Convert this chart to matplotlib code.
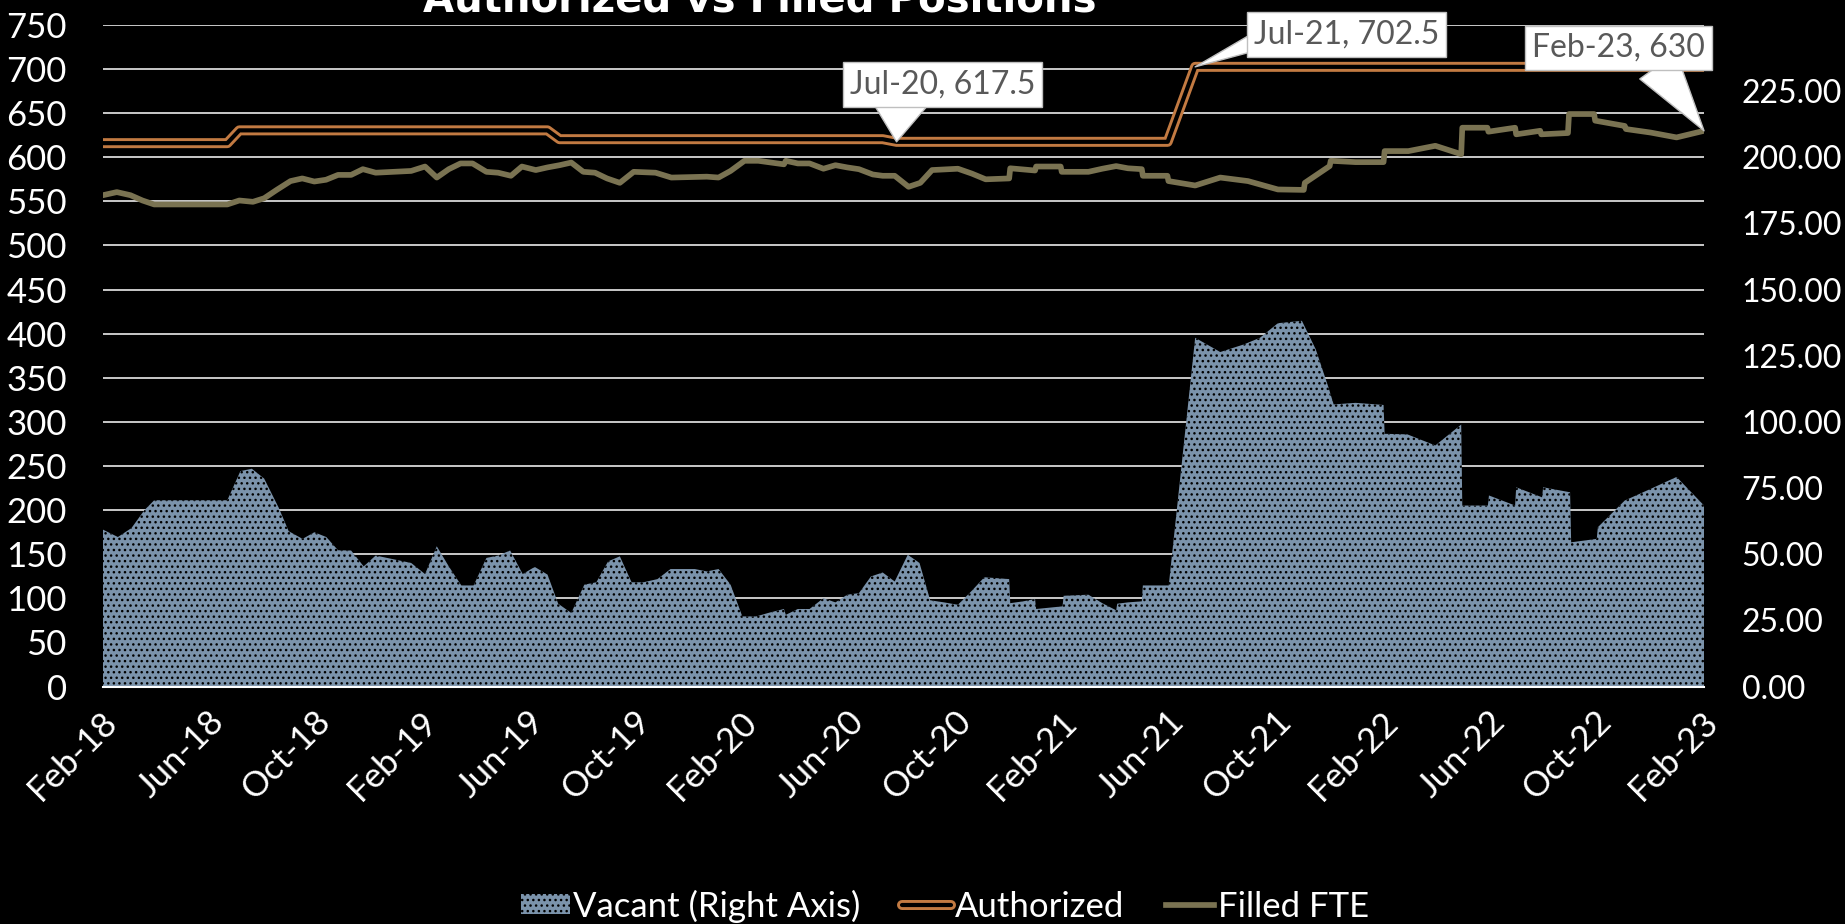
import matplotlib.pyplot as plt
from matplotlib import patheffects as pe
from matplotlib.patches import Patch
from matplotlib.transforms import ScaledTranslation

plt.rcParams['font.family'] = ['Lato', 'DejaVu Sans']
plt.rcParams['hatch.color'] = 'black'
plt.rcParams['hatch.linewidth'] = 1.0

# x values are months since Feb-18
tick_pos = list(range(0, 61, 4))
tick_labels = ['Feb-18', 'Jun-18', 'Oct-18', 'Feb-19', 'Jun-19', 'Oct-19', 'Feb-20', 'Jun-20',
               'Oct-20', 'Feb-21', 'Jun-21', 'Oct-21', 'Feb-22', 'Jun-22', 'Oct-22', 'Feb-23']

auth_x = [0, 4.66, 5.11, 16.66, 17.11, 29.22, 29.74, 39.9, 40.93, 60.0]
auth_y = [616, 616, 630.5, 630.5, 620.5, 620.5, 617.5, 617.5, 702.5, 702.5]

filled_x = [0, 0.52, 1.03, 1.48, 1.92, 4.66, 5.11, 5.62, 6.04, 6.51, 7.03, 7.47, 7.92, 8.36,
            8.81, 9.3, 9.74, 10.22, 11.55, 12.07, 12.51, 12.96, 13.4, 13.85, 14.37, 14.81,
            15.29, 15.7, 16.22, 16.66, 17.11, 17.55, 18.0, 18.44, 18.89, 19.37, 19.89, 20.71,
            21.3, 22.63, 23.07, 23.52, 24.04, 24.56, 25.52, 25.59, 26.04, 26.48, 27.0, 27.45,
            27.89, 28.33, 28.85, 29.22, 29.67, 30.19, 30.63, 31.07, 32.04, 32.56, 33.08, 33.96,
            34.0, 34.93, 34.97, 35.89, 35.93, 36.93, 37.45, 37.97, 38.41, 38.93, 38.97, 39.89,
            39.93, 40.93, 41.87, 42.91, 44.03, 45.0, 45.04, 45.97, 46.01, 46.94, 47.99, 48.03,
            48.92, 49.93, 50.9, 50.94, 51.88, 51.92, 52.92, 52.96, 53.86, 53.9, 54.9, 54.94,
            55.88, 55.92, 57.03, 57.07, 58.0, 58.97, 60.0]
filled_y = [557, 560.5, 557, 551, 546.5, 546.5, 551, 549.5, 553.5, 563, 573, 576, 572.5, 574.5,
            580, 580, 586.5, 582.5, 584.5, 589.5, 577, 586.5, 593, 593, 583.5, 582.5,
            579, 589.5, 585.5, 588.5, 591, 594, 583.5, 582.5, 576, 571, 583.5, 582.5,
            577, 578, 577, 584.5, 596, 596, 592, 596, 593, 593, 587, 591,
            588.5, 586.5, 580.5, 579, 579, 566.5, 571, 585.5, 587, 581.5, 575, 576,
            587.5, 585, 589.5, 589.5, 583.5, 583.5, 587, 590, 587.5, 586.5, 579, 579,
            573, 568, 577, 573, 563.5, 563, 571, 590, 596, 594.5, 594.5, 607,
            607, 613, 603.5, 633.5, 633.5, 629, 633.5, 626, 630, 626, 627.5, 649,
            649, 641.5, 635.5, 632, 628, 622.5, 630]

vac_x = [0, 0.56, 1.07, 1.55, 1.92, 4.66, 5.15, 5.58, 6.04, 6.59, 6.96, 7.48, 7.92, 8.37,
         8.81, 9.3, 9.77, 10.22, 11.55, 12.07, 12.51, 12.96, 13.43, 13.89, 14.37, 14.81,
         15.26, 15.73, 16.18, 16.66, 17.06, 17.55, 18.04, 18.49, 18.93, 19.37, 19.81, 20.26,
         20.78, 21.27, 22.18, 22.63, 23.07, 23.52, 23.96, 24.48, 25.0, 25.52, 25.59, 26.04,
         26.48, 27.0, 27.45, 27.89, 28.33, 28.78, 29.22, 29.67, 30.16, 30.6, 31.0, 31.52,
         32.04, 32.56, 33.03, 33.96, 34.0, 34.49, 34.93, 34.97, 35.96, 36.0, 36.93, 37.45,
         37.97, 38.01, 38.41, 38.93, 38.97, 39.94, 40.93, 41.87, 42.76, 43.36, 44.03, 44.93,
         45.45, 45.93, 46.12, 46.94, 47.99, 48.03, 48.88, 49.93, 50.9, 50.94, 51.9, 51.94,
         52.92, 52.96, 53.93, 53.97, 54.98, 55.02, 55.98, 56.02, 57.03, 58.0, 58.97, 60.0]
vac_y = [59.3, 56.5, 59.9, 66.6, 70.4, 70.4, 81.4, 82.3, 78.6, 67.5, 58.7, 55.8, 58.3, 56.5,
         51.5, 51.4, 45.4, 49.5, 46.7, 42.5, 53, 45.4, 38.2, 38.2, 48.6, 49.5,
         51.4, 42.5, 45.2, 42.3, 31.3, 27.8, 38.5, 39.4, 47.3, 49.2, 39.4, 39.4,
         40.6, 44.4, 44.4, 43.5, 44.4, 38.5, 26.5, 26.5, 28.0, 29.3, 27.1, 29.3,
         29.3, 33.4, 31.8, 34.7, 35.3, 41.6, 43.1, 39.7, 49.8, 46.7, 32.6, 31.8,
         30.9, 36.2, 41.3, 40.6, 31.5, 32.2, 33.1, 29.3, 30.3, 34.3, 34.7, 31.5,
         28.8, 31.3, 31.8, 32.2, 38.2, 38.2, 131.8, 126.4, 129.3, 131.8, 137.3, 138.2,
         127.4, 112.9, 106.6, 107.2, 106.4, 95.5, 95.3, 91.1, 99.0, 68.4, 68.4, 72.2,
         68.4, 75.3, 71.5, 75.3, 73.4, 54.5, 55.8, 60.2, 70.3, 74.7, 79.2, 68.4]

orange = '#c27a42'
olive = '#7a7352'
slate = '#7b93ab'
label_gray = '#595959'

fig = plt.figure(figsize=(18.45, 9.24), dpi=100, facecolor='black')
ax = fig.add_axes([0.0558, 0.257, 0.8678, 0.716])
ax.set_facecolor('black')
ax2 = ax.twinx()

# lines on the left axis
auth_line, = ax.plot(auth_x, auth_y, color='black', lw=3.0, solid_capstyle='round', zorder=3,
                     path_effects=[pe.Stroke(linewidth=7.2, foreground=orange, capstyle='round'),
                                   pe.Normal()])
filled_line, = ax.plot(filled_x, filled_y, color=olive, lw=4.1, zorder=3)

# vacant area on the right axis
ax2.fill_between(vac_x, vac_y, 0, facecolor=slate, edgecolor='black', linewidth=0, hatch='...')

ax.set_xlim(0, 60)
ax.set_ylim(0, 750)
ax.set_yticks(range(0, 751, 50))
ax.grid(axis='y', color='#d9d9d9', lw=1.3)
ax.set_axisbelow(True)
ax.set_xticks(tick_pos)
ax.set_xticklabels(tick_labels, rotation=45, ha='right', va='center', rotation_mode='anchor')
ax.tick_params(axis='x', length=0, pad=28, labelsize=25, colors='white')
ax.tick_params(axis='y', length=0, pad=26, labelsize=25, colors='white')

ax2.set_ylim(0, 250)
ax2.set_yticks(range(0, 226, 25))
ax2.set_yticklabels([f'{v:.2f}' for v in range(0, 226, 25)])
ax2.tick_params(axis='y', length=0, pad=27, labelsize=23, colors='white')

for a in (ax, ax2):
    for s in a.spines.values():
        s.set_visible(False)
ax2.spines['bottom'].set_visible(True)
ax2.spines['bottom'].set_color('white')
ax2.spines['bottom'].set_linewidth(1.5)

shift = ScaledTranslation(0.09, 0.09, fig.dpi_scale_trans)
for lbl in ax.get_xticklabels():
    lbl.set_transform(lbl.get_transform() + shift)


# callouts: a wedge from the box edge to the point, then the box on top
def callout(text, point, box_px, base_px, tail):
    ax.annotate('', xy=point, xytext=(base_px[0] / 1845, 1 - base_px[1] / 924),
                textcoords='figure fraction', annotation_clip=False, zorder=5,
                arrowprops=dict(arrowstyle=f'wedge,tail_width={tail},shrink_factor=0.5',
                                fc='white', ec='#bfbfbf', lw=1, shrinkA=0, shrinkB=0,
                                mutation_scale=23))
    ax.annotate(text, xy=(box_px[0] / 1845, 1 - box_px[1] / 924), xycoords='figure fraction',
                ha='center', va='center', fontsize=23, color=label_gray, zorder=6,
                annotation_clip=False,
                bbox=dict(boxstyle='square,pad=0.22', fc='white', ec='#bfbfbf', lw=1))


callout('Jul-20, 617.5', (auth_x[6], auth_y[6]), (942.5, 84.5), (900, 100), 1.9)
callout('Jul-21, 702.5', (auth_x[8], auth_y[8]), (1346.5, 34.5), (1250, 44), 0.5)
callout('Feb-23, 630', (filled_x[-1], filled_y[-1]), (1618.5, 48), (1658, 66), 1.4)

fig.text(760 / 1845, 1 - 12 / 924, 'Authorized vs Filled Positions', ha='center',
         va='baseline', fontsize=29, fontweight='bold', color='white', family='DejaVu Sans')

handles = [Patch(facecolor=slate, edgecolor='black', linewidth=0, hatch='...'),
           auth_line, filled_line]
fig.legend(handles, ['Vacant (Right Axis)', 'Authorized', 'Filled FTE'], loc='center',
           bbox_to_anchor=(945 / 1845, 1 - 906 / 924), ncol=3, frameon=False, fontsize=25,
           labelcolor='white', handlelength=1.4, handleheight=0.5, handletextpad=0.1,
           columnspacing=1.2)

fig.savefig('out.png', dpi=100, facecolor='black')
